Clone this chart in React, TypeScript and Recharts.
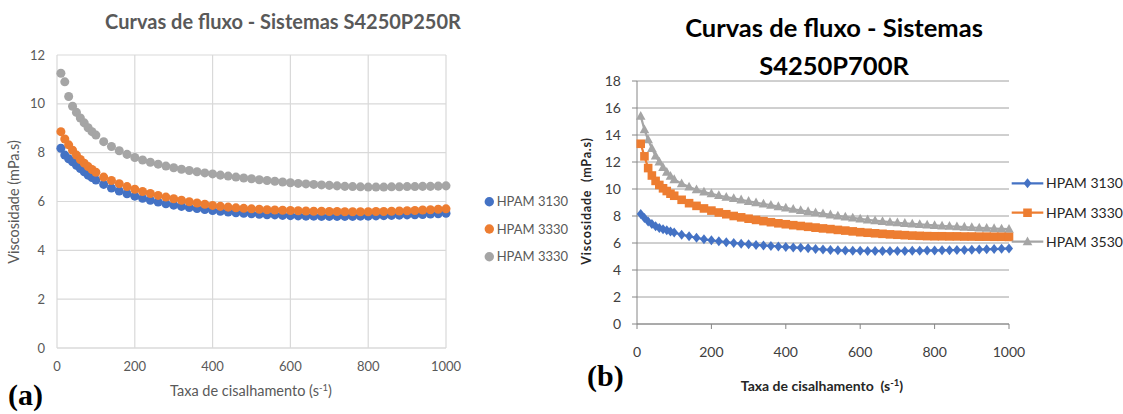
import React from 'react';
import { ScatterChart, Scatter, LineChart, Line, XAxis, YAxis, ZAxis, CartesianGrid } from 'recharts';

// taxa de cisalhamento (s-1), shared by every curve
const shearRate = [
  10, 20, 30, 40, 50, 60, 70, 80, 90, 100,
  120, 140, 160, 180, 200, 220, 240, 260, 280, 300,
  320, 340, 360, 380, 400, 420, 440, 460, 480, 500,
  520, 540, 560, 580, 600, 620, 640, 660, 680, 700,
  720, 740, 760, 780, 800, 820, 840, 860, 880, 900,
  920, 940, 960, 980, 1000,
];

// (a) S4250P250R
const a3130 = [
  8.18, 7.9, 7.75, 7.63, 7.48, 7.35, 7.22, 7.08, 6.98, 6.88,
  6.7, 6.55, 6.43, 6.32, 6.22, 6.13, 6.05, 5.98, 5.91, 5.85,
  5.8, 5.75, 5.71, 5.67, 5.63, 5.6, 5.57, 5.54, 5.52, 5.5,
  5.48, 5.46, 5.45, 5.43, 5.42, 5.41, 5.4, 5.4, 5.39, 5.39,
  5.39, 5.39, 5.39, 5.4, 5.4, 5.41, 5.42, 5.43, 5.44, 5.45,
  5.46, 5.47, 5.49, 5.5, 5.52,
];
const a3330 = [
  8.86, 8.56, 8.32, 8.1, 7.9, 7.72, 7.57, 7.43, 7.31, 7.2,
  7.0, 6.86, 6.73, 6.61, 6.5, 6.41, 6.33, 6.25, 6.18, 6.11,
  6.05, 5.99, 5.94, 5.89, 5.84, 5.8, 5.77, 5.74, 5.72, 5.7,
  5.68, 5.66, 5.65, 5.64, 5.63, 5.62, 5.61, 5.6, 5.6, 5.59,
  5.59, 5.58, 5.58, 5.58, 5.58, 5.59, 5.59, 5.6, 5.61, 5.62,
  5.63, 5.65, 5.66, 5.68, 5.7,
];
const a3330b = [
  11.25, 10.9, 10.3, 9.9, 9.65, 9.42, 9.22, 9.02, 8.86, 8.72,
  8.45, 8.25, 8.08, 7.93, 7.8, 7.7, 7.61, 7.53, 7.45, 7.38,
  7.32, 7.27, 7.22, 7.17, 7.13, 7.08, 7.04, 7.0, 6.96, 6.93,
  6.89, 6.86, 6.83, 6.8, 6.77, 6.74, 6.72, 6.7, 6.68, 6.66,
  6.64, 6.62, 6.61, 6.6, 6.59, 6.59, 6.59, 6.6, 6.6, 6.61,
  6.61, 6.62, 6.62, 6.63, 6.64,
];

// (b) S4250P700R
const b3130 = [
  8.15, 7.85, 7.6, 7.4, 7.25, 7.12, 7.02, 6.95, 6.85, 6.77,
  6.62, 6.5, 6.38, 6.28, 6.2, 6.13, 6.06, 6.0, 5.95, 5.9,
  5.86, 5.82, 5.78, 5.74, 5.7, 5.67, 5.64, 5.61, 5.56, 5.52,
  5.49, 5.46, 5.44, 5.43, 5.42, 5.41, 5.41, 5.4, 5.4, 5.41,
  5.41, 5.42, 5.43, 5.44, 5.45, 5.46, 5.47, 5.48, 5.49, 5.5,
  5.52, 5.53, 5.55, 5.57, 5.6,
];
const b3330 = [
  13.35, 12.42, 11.55, 11.0, 10.6, 10.3, 10.05, 9.85, 9.65, 9.5,
  9.2, 8.95, 8.75, 8.56, 8.4, 8.26, 8.13, 8.0, 7.9, 7.8,
  7.71, 7.62, 7.54, 7.46, 7.39, 7.32, 7.26, 7.2, 7.14, 7.08,
  7.03, 6.97, 6.92, 6.86, 6.8, 6.76, 6.72, 6.68, 6.64, 6.61,
  6.58, 6.55, 6.53, 6.51, 6.5, 6.5, 6.49, 6.49, 6.48, 6.48,
  6.47, 6.47, 6.46, 6.46, 6.45,
];
const b3530 = [
  15.4, 14.4, 13.65, 13.0, 12.45, 12.0, 11.6, 11.25, 10.95, 10.7,
  10.4, 10.15, 9.95, 9.78, 9.65, 9.52, 9.4, 9.3, 9.2, 9.09,
  8.99, 8.89, 8.8, 8.7, 8.6, 8.5, 8.42, 8.33, 8.25, 8.17,
  8.09, 8.01, 7.93, 7.86, 7.79, 7.72, 7.66, 7.6, 7.55, 7.5,
  7.46, 7.42, 7.38, 7.34, 7.3, 7.27, 7.24, 7.21, 7.18, 7.15,
  7.12, 7.1, 7.07, 7.05, 7.03,
];

const xTicks = [0, 200, 400, 600, 800, 1000];
const yTicksA = [0, 2, 4, 6, 8, 10, 12];
const yTicksB = [0, 2, 4, 6, 8, 10, 12, 14, 16, 18];

const namesA = ['HPAM 3130', 'HPAM 3330', 'HPAM 3330'];
const namesB = ['HPAM 3130', 'HPAM 3330', 'HPAM 3530'];

const BLUE = '#4472C4';
const ORANGE = '#ED7D31';
const GRAY = '#A5A5A5';
const FONT = 'Lato, "Open Sans", sans-serif';

const toPoints = (ys: number[]) => shearRate.map((x, i) => ({ x, y: ys[i] }));

const rowsB = shearRate.map((x, i) => ({ x, hpam3130: b3130[i], hpam3330: b3330[i], hpam3530: b3530[i] }));

const diamond = (cx: number, cy: number) => `M${cx},${cy - 5}L${cx + 4},${cy}L${cx},${cy + 5}L${cx - 4},${cy}Z`;
const square = (cx: number, cy: number) => `M${cx - 4.3},${cy - 4.3}h8.6v8.6h-8.6Z`;
const triangle = (cx: number, cy: number) => `M${cx},${cy - 5.2}L${cx + 4.8},${cy + 3.6}L${cx - 4.8},${cy + 3.6}Z`;

const makeDot = (shape: (cx: number, cy: number) => string, color: string) => (props: any) => {
  const { cx, cy, index } = props;
  if (cx == null || cy == null) return <g key={`e${index}`} />;
  return <path key={`m${index}`} d={shape(cx, cy)} fill={color} stroke="none" />;
};

const tickA = { fontFamily: FONT, fontSize: 13, fill: '#595959' };
const tickB = { fontFamily: FONT, fontSize: 14, fill: '#404040' };

const ChartA: React.FC = () => (
  <ScatterChart width={560} height={414} margin={{ top: 55, right: 114, bottom: 36, left: 0 }}>
    <CartesianGrid stroke="#d9d9d9" strokeWidth={1.2} />
    <XAxis type="number" dataKey="x" domain={[0, 1000]} ticks={xTicks} height={30}
      axisLine={{ stroke: '#d9d9d9', strokeWidth: 1.2 }} tickLine={false} tickSize={6} tickMargin={8} tick={tickA} />
    <YAxis type="number" dataKey="y" domain={[0, 12]} ticks={yTicksA} width={57}
      axisLine={false} tickLine={false} tickSize={6} tickMargin={6} tick={tickA} />
    <ZAxis range={[82, 82]} />
    <Scatter data={toPoints(a3130)} fill={BLUE} isAnimationActive={false} />
    <Scatter data={toPoints(a3330)} fill={ORANGE} isAnimationActive={false} />
    <Scatter data={toPoints(a3330b)} fill={GRAY} isAnimationActive={false} />
  </ScatterChart>
);

const ChartB: React.FC = () => (
  <LineChart width={563} height={414} data={rowsB} margin={{ top: 81, right: 114, bottom: 50, left: 0 }}>
    <CartesianGrid stroke="#a0a0a0" vertical={false} />
    <XAxis type="number" dataKey="x" domain={[0, 1000]} ticks={xTicks} height={40}
      axisLine={{ stroke: '#868686' }} tickLine={{ stroke: '#868686' }} tickSize={5} tickMargin={18} tick={tickB} />
    <YAxis type="number" domain={[0, 18]} ticks={yTicksB} width={77}
      axisLine={{ stroke: '#868686' }} tickLine={{ stroke: '#868686' }} tickSize={5} tickMargin={11} tick={tickB} />
    <Line type="linear" dataKey="hpam3530" stroke={GRAY} strokeWidth={2.2} dot={makeDot(triangle, GRAY)} activeDot={false} isAnimationActive={false} />
    <Line type="linear" dataKey="hpam3330" stroke={ORANGE} strokeWidth={2.2} dot={makeDot(square, ORANGE)} activeDot={false} isAnimationActive={false} />
    <Line type="linear" dataKey="hpam3130" stroke={BLUE} strokeWidth={2.2} dot={makeDot(diamond, BLUE)} activeDot={false} isAnimationActive={false} />
  </LineChart>
);

const colors = [BLUE, ORANGE, GRAY];
const shapesB = [diamond, square, triangle];
const legendRowsA = [201.7, 229, 256.7];
const legendRowsB = [183.3, 212.7, 241.7];

const Overlay: React.FC = () => (
  <svg width={1123} height={414} style={{ position: 'absolute', left: 0, top: 0, pointerEvents: 'none' }}>
    {/* (a) texts */}
    <text x={283} y={29} textAnchor="middle" fontFamily={FONT} fontWeight={700} fontSize={20} fill="#595959">
      Curvas de fluxo - Sistemas S4250P250R
    </text>
    <text transform="translate(19,202) rotate(-90)" textAnchor="middle" fontFamily={FONT} fontSize={14.5} fill="#595959">
      Viscosidade (mPa.s)
    </text>
    <text x={251} y={396} textAnchor="middle" fontFamily={FONT} fontSize={14.5} fill="#595959">
      Taxa de cisalhamento (s<tspan dy={-5} fontSize={9.5}>-1</tspan><tspan dy={5}>)</tspan>
    </text>
    {namesA.map((n, i) => (
      <g key={`la${i}`}>
        <circle cx={489.3} cy={legendRowsA[i]} r={4.7} fill={colors[i]} />
        <text x={496.7} y={legendRowsA[i] + 4.6} fontFamily={FONT} fontSize={13} fill="#595959">{n}</text>
      </g>
    ))}
    <text x={8} y={405} fontFamily='"Liberation Serif", "Times New Roman", serif' fontWeight={700} fontSize={30} fill="#000">(a)</text>

    {/* (b) texts */}
    <text x={834} y={37} textAnchor="middle" fontFamily={FONT} fontWeight={700} fontSize={25.5} fill="#000">
      Curvas de fluxo - Sistemas
    </text>
    <text x={834} y={75} textAnchor="middle" fontFamily={FONT} fontWeight={700} fontSize={25.5} fill="#000">
      S4250P700R
    </text>
    <text transform="translate(591,201) rotate(-90)" textAnchor="middle" fontFamily={FONT} fontWeight={700} fontSize={12.5} letterSpacing={0.8} fill="#262626" style={{ whiteSpace: 'pre' }}>
      {'Viscosidade  (mPa.s)'}
    </text>
    <text x={822} y={391} textAnchor="middle" fontFamily={FONT} fontWeight={700} fontSize={14} fill="#262626" style={{ whiteSpace: 'pre' }}>
      {'Taxa de cisalhamento  (s'}<tspan dy={-5} fontSize={9.5}>-1</tspan><tspan dy={5}>)</tspan>
    </text>
    {namesB.map((n, i) => (
      <g key={`lb${i}`}>
        <line x1={1011.7} x2={1043.3} y1={legendRowsB[i]} y2={legendRowsB[i]} stroke={colors[i]} strokeWidth={2.2} />
        <path d={shapesB[i](1027.5, legendRowsB[i])} fill={colors[i]} />
        <text x={1046} y={legendRowsB[i] + 5} fontFamily={FONT} fontSize={14} fill="#262626">{n}</text>
      </g>
    ))}
    <text x={587} y={386} fontFamily='"Liberation Serif", "Times New Roman", serif' fontWeight={700} fontSize={30} fill="#000">(b)</text>
  </svg>
);

const App: React.FC = () => (
  <div style={{ position: 'absolute', left: 0, top: 0, width: 1123, height: 414, background: '#fff', overflow: 'hidden' }}>
    <div style={{ position: 'absolute', left: 0, top: 0 }}>
      <ChartA />
    </div>
    <div style={{ position: 'absolute', left: 560, top: 0 }}>
      <ChartB />
    </div>
    <Overlay />
  </div>
);

export default App;
